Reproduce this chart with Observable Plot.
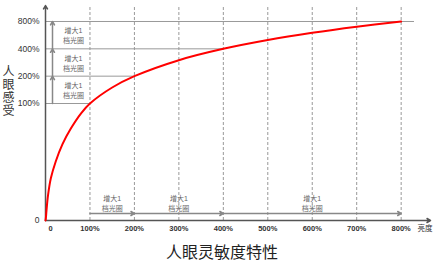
<!DOCTYPE html>
<html>
<head>
<meta charset="utf-8">
<script src="https://cdn.jsdelivr.net/npm/d3@7"></script>
<script src="https://cdn.jsdelivr.net/npm/@observablehq/plot@0.6"></script>
<style>
  body { margin: 0; background: #fff; }
  #wrap { position: relative; width: 439px; }
  #ylabel { position: absolute; left: 1px; top: 65px; writing-mode: vertical-rl; text-orientation: upright; font-family: "Noto Sans CJK SC", sans-serif; font-size: 12px; letter-spacing: 1px; line-height: 14px; color: #333; }
  #title { width: 439px; height: 26px; box-sizing: border-box; padding-top: 5px; padding-left: 5px; line-height: 20px; text-align: center; font-family: "Noto Sans CJK SC", sans-serif; font-size: 16px; color: #222; }
</style>
</head>
<body>
<div id="wrap">
  <div id="chart"></div>
  <div id="ylabel"></div>
</div>
<div id="title">人眼灵敏度特性</div>
<script>
// Curve: physical brightness (%) vs perceived brightness (%)
const brightness = [0, 0.7, 2.2, 5.5, 12, 23, 38, 57, 80, 100, 150, 200, 300, 400, 500, 600, 700, 800];
const perceived  = [5.15, 5.4, 6.6, 9.6, 15, 23, 35.5, 53, 78, 100, 150, 200, 300, 400, 500, 600, 700, 800];

// Axis ticks
const xTickValues = [100, 200, 300, 400, 500, 600, 700, 800];
const xTickLabels = ["100%", "200%", "300%", "400%", "500%", "600%", "700%", "800%"];
const yTickValues = [5.15, 100, 200, 400, 800];
const yTickLabels = ["0", "100%", "200%", "400%", "800%"];
const yTitle = "人眼感受";

// Stops (one aperture step each)
const stopLevels = [100, 200, 400, 800];
const gridEnds = [100, 200, 400, 830];
const stepText = "增大1\n档光圈";

const yMin = 5.15, yMax = 1200, xMax = 866;

const curve = brightness.map((b, i) => ({x: b, y: perceived[i]}));
const steps = stopLevels.slice(0, -1).map((s, i) => ({from: s, to: stopLevels[i + 1]}));

const plot = Plot.plot({
  width: 439,
  height: 236,
  marginLeft: 45,
  marginRight: 9,
  marginTop: 5,
  marginBottom: 16,
  x: {domain: [0, xMax], axis: null},
  y: {type: "log", domain: [yMin, yMax], axis: null},
  style: {fontFamily: "'Liberation Sans', 'Noto Sans CJK SC', sans-serif", fontSize: "8px", background: "#fff"},
  marks: [
    // dashed verticals
    Plot.ruleX(xTickValues, {x: d => d, y1: yMin, y2: yMax, stroke: "#999", strokeWidth: 1, strokeDasharray: "3,2"}),
    // horizontal guides
    Plot.ruleY(stopLevels, {y: d => d, x1: 0, x2: (d, i) => gridEnds[i], stroke: "#999", strokeWidth: 1}),
    // vertical step arrows
    Plot.arrow(steps, {x1: 0, x2: 0, y1: d => d.from, y2: d => d.to, dx: 7, stroke: "#888", strokeWidth: 1.5, headLength: 4}),
    Plot.text(steps, {x: 0, y: d => Math.sqrt(d.from * d.to), text: () => stepText, dx: 28, fill: "#666", fontSize: 7, lineHeight: 1.4}),
    // horizontal step arrows
    Plot.arrow(steps, {x1: d => d.from, x2: d => d.to, y1: yMin, y2: yMin, dy: -7, stroke: "#888", strokeWidth: 1.5, headLength: 4}),
    Plot.text(steps, {x: d => (d.from + d.to) / 2, y: yMin, text: () => stepText, dy: -18, fill: "#666", fontSize: 7, lineHeight: 1.4}),
    // axes
    Plot.arrow([0], {x1: 0, x2: xMax, y1: yMin, y2: yMin, stroke: "#555", strokeWidth: 1.5, headLength: 4}),
    Plot.arrow([0], {x1: 0, x2: 0, y1: yMin, y2: yMax, stroke: "#555", strokeWidth: 1.5, headLength: 4}),
    // curve
    Plot.line(curve, {x: "x", y: "y", stroke: "#f00", strokeWidth: 2, curve: "catmull-rom"}),
    // tick labels
    Plot.text(xTickLabels, {x: (d, i) => xTickValues[i], y: yMin, text: d => d, dy: 8, fill: "#333", fontWeight: "bold", fontSize: 7.5}),
    Plot.text(["0"], {x: 0, y: yMin, text: d => d, dx: 5, dy: 8, fill: "#333", fontWeight: "bold", fontSize: 7.5}),
    Plot.text(["亮度"], {x: xMax, y: yMin, text: d => d, dx: 2, dy: 8, textAnchor: "end", fill: "#333", fontSize: 7.5}),
    Plot.text(yTickLabels, {x: 0, y: (d, i) => yTickValues[i], text: d => d, dx: -6, textAnchor: "end", fill: "#333", fontSize: 8.5})
  ]
});
document.getElementById("chart").appendChild(plot);
document.getElementById("ylabel").textContent = yTitle;
</script>
</body>
</html>
